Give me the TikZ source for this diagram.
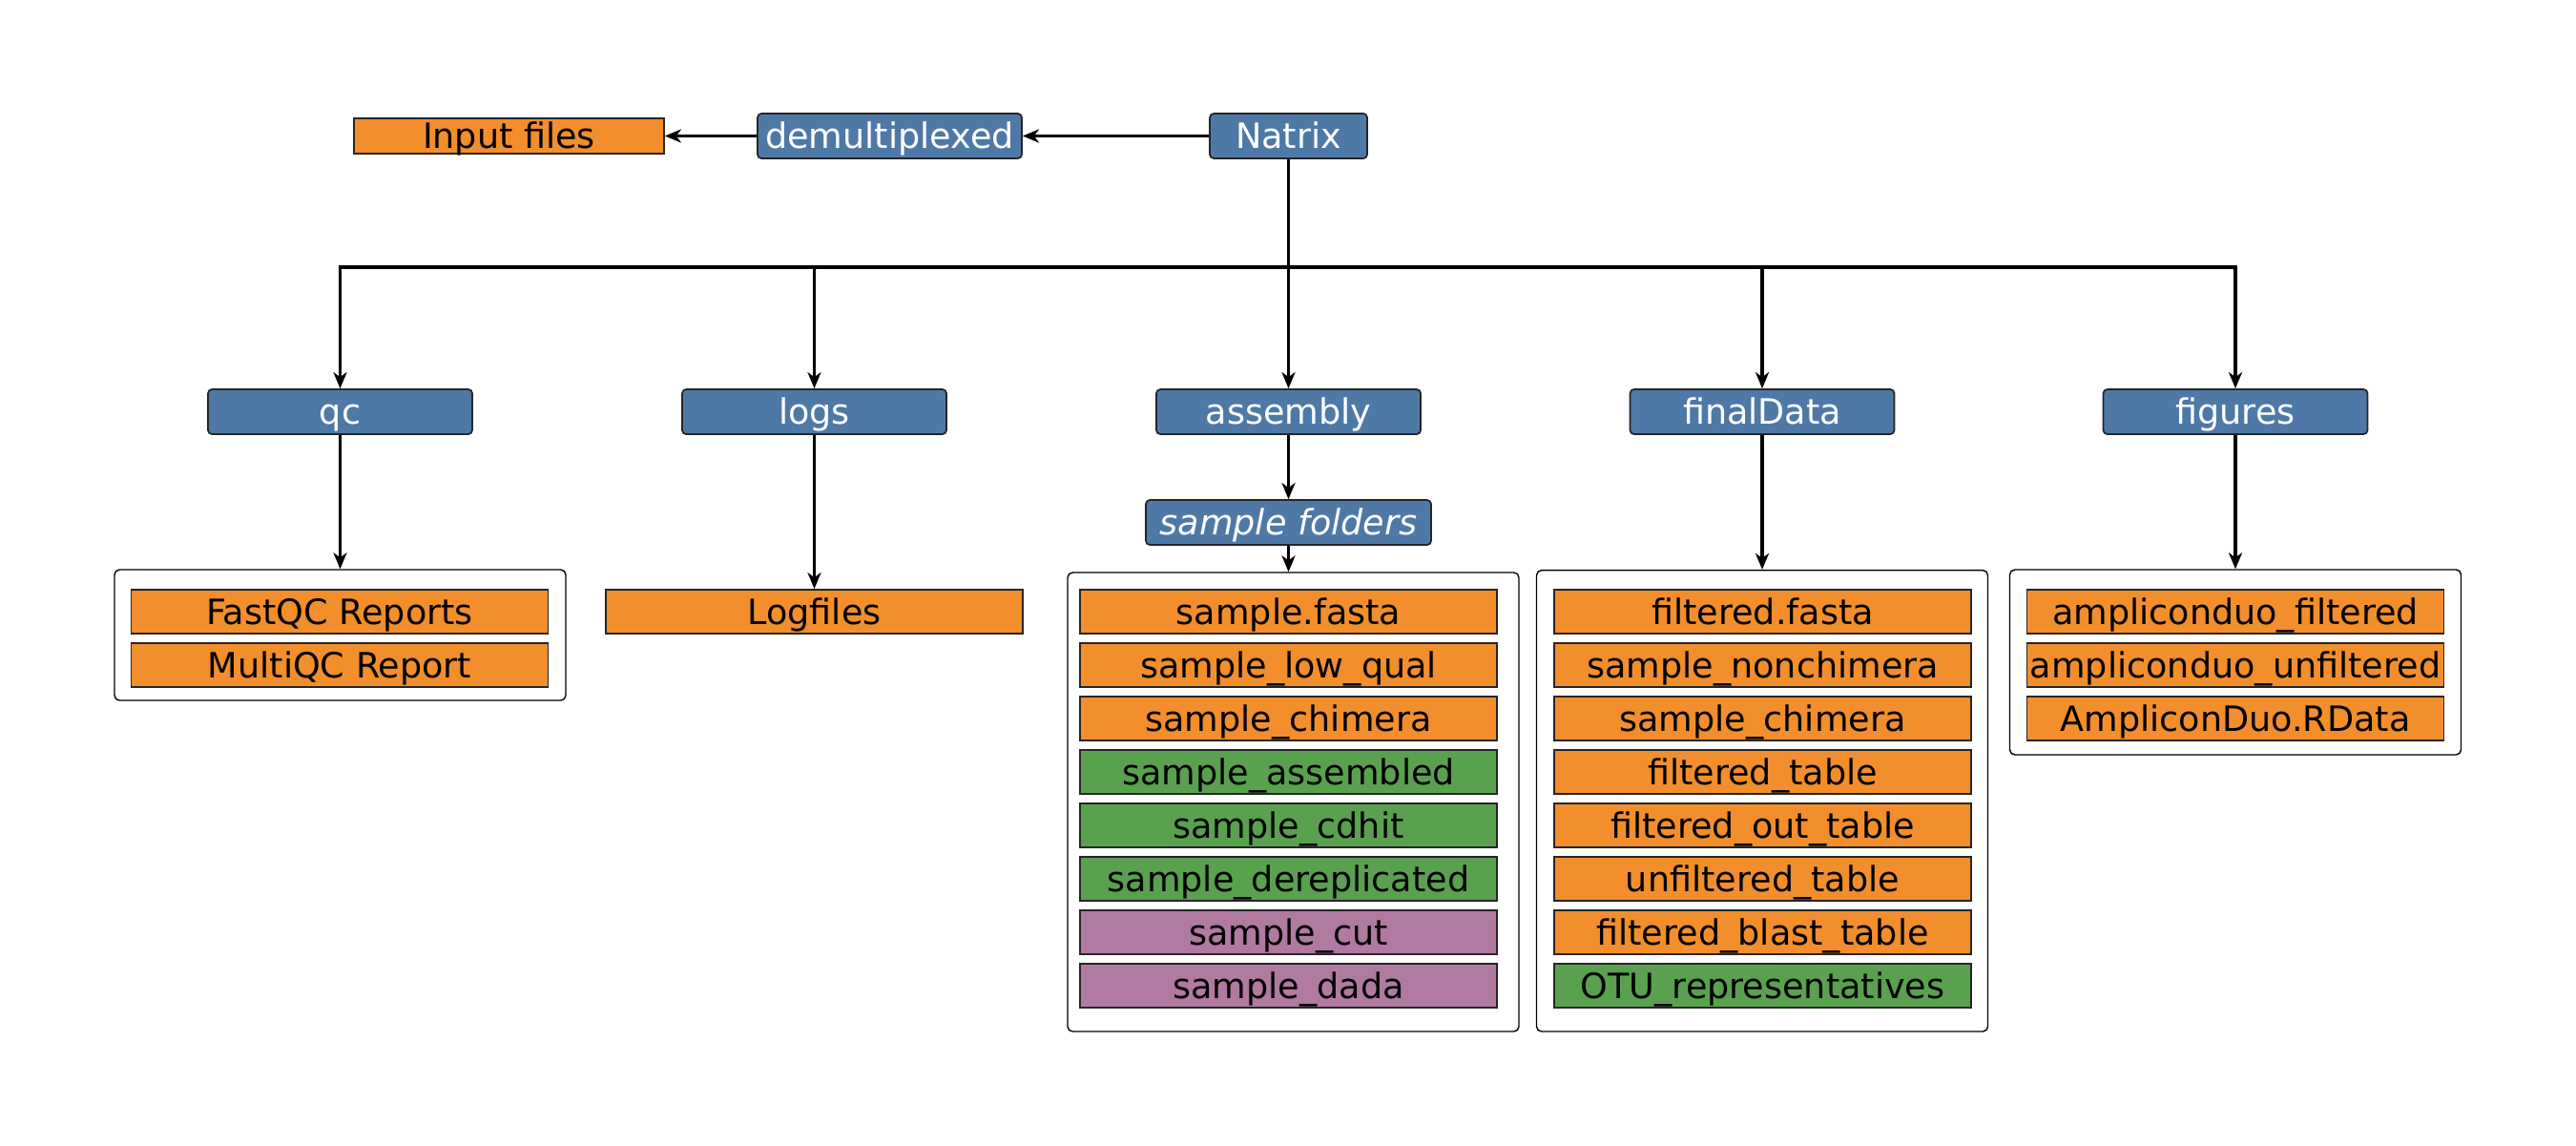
\documentclass[tikz,border=0pt]{standalone}
\usepackage{fontspec}
\setmainfont{DejaVu Sans}
\usetikzlibrary{arrows.meta}
\definecolor{dirblue}{HTML}{4E79A7}
\definecolor{fileorange}{HTML}{F28E2B}
\definecolor{filegreen}{HTML}{59A14F}
\definecolor{filepurple}{HTML}{B07AA1}

\begin{document}
\begin{tikzpicture}[font=\fontsize{10.4}{12}\selectfont,
dirbox/.style={draw=black!85, line width=0.5pt, fill=dirblue, text=white, rounded corners=1.2pt,
  minimum width=2.77cm, minimum height=0.47cm, inner sep=0pt, text height=0.74em, text depth=0pt},
filebox/.style={draw=black!85, line width=0.5pt, fill=fileorange, minimum width=4.37cm,
  minimum height=0.46cm, inner sep=0pt, text height=0.74em, text depth=0pt},
grpbox/.style={draw, line width=0.4pt, rounded corners=1.5pt, minimum width=4.73cm, inner sep=0pt},
conn/.style={line width=0.9pt, -{Stealth[length=1.7mm,width=1.4mm,inset=0.5mm]}}]
\useasboundingbox (0,0) rectangle (27,-12);

% top row
\node[dirbox, minimum width=1.65cm] (natrix) at (13.505,-1.425) {Natrix};
\node[dirbox] (demux) at (9.325,-1.425) {demultiplexed};
\node[filebox, minimum width=3.25cm, minimum height=0.37cm] (input) at (5.335,-1.425) {Input files};
\draw[conn] (natrix) -- (demux);
\draw[conn] (demux) -- (input);

% second row
\node[dirbox] (qc) at (3.565,-4.315) {qc};
\node[dirbox] (logs) at (8.535,-4.315) {logs};
\node[dirbox] (assembly) at (13.505,-4.315) {assembly};
\node[dirbox] (finaldata) at (18.47,-4.315) {finalData};
\node[dirbox] (figures) at (23.43,-4.315) {figures};
\node[dirbox, minimum width=2.99cm] (sfold) at (13.505,-5.475) {\itshape sample folders};

\coordinate (bus) at (13.505,-2.8);
\draw[conn] (natrix) -- (assembly);
\draw[conn] (bus) -| (qc);
\draw[conn] (bus) -| (figures);
\foreach \n in {logs,finaldata}
  \draw[conn] (\n |- bus) -- (\n);

% groups
\node[grpbox, minimum height=1.37cm] (qcgrp) at (3.565,-6.655) {};
\node[grpbox, minimum height=4.81cm] (asmgrp) at (13.555,-8.405) {};
\node[grpbox, minimum height=4.834cm] (fingrp) at (18.47,-8.393) {};
\node[grpbox, minimum height=1.94cm] (figgrp) at (23.43,-6.94) {};

% files
\foreach \t [count=\i] in {FastQC Reports, MultiQC Report}
  \node[filebox] (qcf\i) at (3.56,{-6.41-0.56*(\i-1)}) {\t};
\node[filebox] (logf) at (8.535,-6.41) {Logfiles};
\foreach \t/\c [count=\i] in {sample.fasta/fileorange, sample\_low\_qual/fileorange,
  sample\_chimera/fileorange, sample\_assembled/filegreen, sample\_cdhit/filegreen,
  sample\_dereplicated/filegreen, sample\_cut/filepurple, sample\_dada/filepurple}
  \node[filebox, fill=\c] (asm\i) at (13.505,{-6.41-0.56*(\i-1)}) {\t};
\foreach \t/\c [count=\i] in {filtered.fasta/fileorange, sample\_nonchimera/fileorange,
  sample\_chimera/fileorange, filtered\_table/fileorange, filtered\_out\_table/fileorange,
  unfiltered\_table/fileorange, filtered\_blast\_table/fileorange, OTU\_representatives/filegreen}
  \node[filebox, fill=\c] (fin\i) at (18.475,{-6.41-0.56*(\i-1)}) {\t};
\foreach \t [count=\i] in {ampliconduo\_filtered, ampliconduo\_unfiltered, AmpliconDuo.RData}
  \node[filebox] (fig\i) at (23.43,{-6.41-0.56*(\i-1)}) {\t};

\draw[conn] (qc) -- (qcgrp);
\draw[conn] (logs) -- (logf);
\draw[conn] (assembly) -- (sfold);
\draw[conn] (sfold) -- (sfold |- asmgrp.north);
\draw[conn] (finaldata) -- (fingrp);
\draw[conn] (figures) -- (figgrp);
\end{tikzpicture}
\end{document}
